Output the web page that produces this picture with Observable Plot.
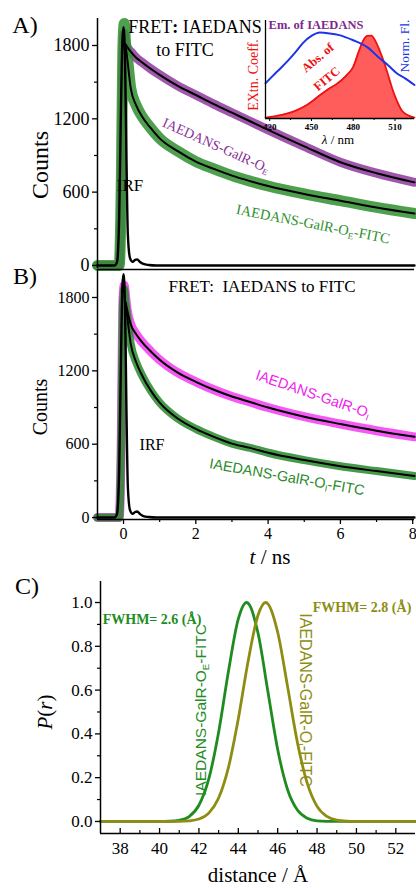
<!DOCTYPE html>
<html><head><meta charset="utf-8">
<script src="https://cdn.jsdelivr.net/npm/d3@7"></script>
<script src="https://cdn.jsdelivr.net/npm/@observablehq/plot@0.6"></script>
<style>
body{margin:0;background:#fff}
#wrap{position:relative;width:416px;height:888px;overflow:hidden;font-family:"Liberation Serif",serif;color:#000}
#wrap svg{position:absolute;left:0}
#wrap svg text{font-family:"Liberation Serif",serif !important}
#pA text{font-size:18px !important}
#pB text{font-size:16px !important}
#pC text{font-size:17px !important}
#pI text{font-size:9px !important;font-weight:bold}
.lab{position:absolute;white-space:nowrap;line-height:1;transform-origin:center}
.lab sub{font-size:0.62em;vertical-align:-0.32em;line-height:0}
.sans{font-family:"Liberation Sans",Arial,sans-serif}
.ang{position:relative;display:inline-block}
.ang .o{position:absolute;left:50%;top:-0.45em;font-size:0.5em;transform:translateX(-50%)}
</style></head><body><div id="wrap"></div>
<script>
// ---------- Panel A / B time-resolved decays ----------
const tDecay = [-0.72, -0.12, -0.06, -0.02, 0.02, 0.06, 0.1, 0.2, 0.35, 0.5, 0.75, 1.0, 1.5, 2.0, 2.5, 3.0, 3.5, 4.0, 5.0, 6.0, 7.0, 8.05];
const aOE      = [0, 0, 700, 1700, 1900, 1830, 1790, 1750, 1700, 1665, 1610, 1560, 1470, 1395, 1320, 1250, 1180, 1110, 975, 845, 755, 680];
const aOEfit   = [null, null, null, null, null, 1810, 1790, 1750, 1700, 1665, 1610, 1560, 1470, 1395, 1320, 1250, 1180, 1110, 975, 845, 755, 680];
const aOEFITC  = [0, 0, 700, 1750, 1980, 1800, 1720, 1450, 1310, 1225, 1125, 1040, 935, 850, 790, 735, 690, 650, 585, 530, 475, 425];
const aOEFITCfit = [null, null, null, null, null, 1790, 1700, 1450, 1310, 1225, 1125, 1040, 935, 850, 790, 735, 690, 650, 585, 530, 475, 425];
const bOI      = [0, 0, 700, 1750, 1900, 1800, 1700, 1580, 1500, 1440, 1360, 1290, 1185, 1110, 1045, 990, 945, 900, 825, 765, 710, 660];
const bOIfit   = [null, null, null, null, null, 1760, 1700, 1580, 1500, 1440, 1360, 1290, 1185, 1110, 1045, 990, 945, 900, 825, 765, 710, 660];
const bOIFITC  = [0, 0, 700, 1700, 1870, 1750, 1650, 1420, 1270, 1170, 1040, 940, 810, 725, 660, 605, 570, 530, 470, 420, 380, 340];
const bOIFITCfit = [null, null, null, null, null, 1750, 1650, 1420, 1270, 1170, 1040, 940, 810, 725, 660, 605, 570, 530, 470, 420, 380, 340];
const tIRF  = [-0.72, -0.25, -0.18, -0.12, -0.07, -0.03, 0, 0.04, 0.08, 0.12, 0.18, 0.25, 0.32, 0.38, 0.45, 0.55, 0.7, 0.9, 8.05];
const irfA  = [0, 0, 30, 400, 1300, 1850, 1950, 1700, 900, 250, 60, 30, 45, 50, 30, 12, 4, 0, 0];
const irfB  = [0, 0, 30, 400, 1300, 1900, 1990, 1750, 900, 250, 60, 30, 45, 50, 30, 12, 4, 0, 0];
const countTicks = [0, 600, 1200, 1800];
const countMinor = [300, 900, 1500];
const timeTicks = [0, 2, 4, 6, 8];
const timeMinor = [1, 3, 5, 7];

// ---------- Inset spectra ----------
const lamFl = [417, 425, 433, 439, 444, 450, 456, 463, 470, 480, 490, 499, 505, 511, 517, 524];
const normFl = [0.41, 0.54, 0.67, 0.78, 0.88, 0.96, 1.0, 0.99, 0.97, 0.91, 0.83, 0.70, 0.62, 0.53, 0.47, 0.39];
const lamAbs = [417, 425, 433, 440, 447, 456, 462, 468, 475, 480, 484, 487, 490, 493, 496, 499, 502, 505, 508, 511, 515, 519, 524];
const absFITC = [0.01, 0.03, 0.06, 0.10, 0.16, 0.27, 0.34, 0.40, 0.50, 0.60, 0.78, 0.90, 0.96, 0.965, 0.90, 0.79, 0.66, 0.51, 0.35, 0.22, 0.09, 0.04, 0.01];
const lamTicks = [420, 450, 480, 510];
const lamMinor = [435, 465, 495];

// ---------- Panel C distance distributions ----------
const distOE = [37, 40, 40.5, 41, 41.5, 42, 42.5, 43, 43.5, 44, 44.42, 45, 45.5, 46, 46.5, 47, 47.5, 48, 48.5, 49, 53];
const pOE    = [0, 0.0002, 0.001, 0.0055, 0.0225, 0.074, 0.194, 0.408, 0.686, 0.925, 1.0, 0.861, 0.595, 0.329, 0.146, 0.052, 0.015, 0.003, 0.0006, 0.0001, 0];
const distOI = [37, 41, 41.5, 42, 42.5, 43, 43.5, 44, 44.5, 45, 45.39, 46, 46.5, 47, 47.5, 48, 48.5, 49, 49.5, 50, 53];
const pOI    = [0, 0.0005, 0.0027, 0.011, 0.038, 0.107, 0.247, 0.469, 0.733, 0.942, 1.0, 0.864, 0.617, 0.362, 0.175, 0.069, 0.023, 0.006, 0.0013, 0.0002, 0];
const pTicks = [0, 0.2, 0.4, 0.6, 0.8, 1.0];
const pMinor = [0.1, 0.3, 0.5, 0.7, 0.9];
const distTicks = [38, 40, 42, 44, 46, 48, 50, 52];
const distMinor = [39, 41, 43, 45, 47, 49, 51];

// ---------- helpers ----------
const wrap = document.getElementById("wrap");
const rows = (xs, ys) => xs.map((x, i) => ({x, y: ys[i]}));
const plain = d => String(d);
const blank = () => "";
function place(svg, id, top, left = 0) { svg.id = id; svg.style.top = top + "px"; svg.style.left = left + "px"; wrap.appendChild(svg); }
function lab(html, x, y, o = {}) {
  const d = document.createElement("div");
  d.className = "lab" + (o.sans ? " sans" : "");
  d.innerHTML = html;
  d.style.left = x + "px"; d.style.top = y + "px";
  d.style.fontSize = (o.size || 16) + "px";
  if (o.color) d.style.color = o.color;
  if (o.bold) d.style.fontWeight = "bold";
  d.style.transform = `translate(-50%,-50%) rotate(${o.rot || 0}deg)`;
  wrap.appendChild(d);
}
const xDom = [-0.72, 8.05];
const baseStyle = {fontFamily: "Liberation Serif", background: "transparent", overflow: "visible", color: "#000"};

function decayPlot({id, top, height, mT, mB, yDom, series, irf, xAxis}) {
  const marks = [];
  for (const s of series) marks.push(Plot.line(rows(tDecay, s.data), {x: "x", y: "y", stroke: s.color, strokeWidth: s.w, strokeOpacity: 0.85, curve: "monotone-x"}));
  marks.push(Plot.line(rows(tIRF, irf), {x: "x", y: "y", stroke: "#000", strokeWidth: 2.4, curve: "monotone-x"}));
  for (const s of series) marks.push(Plot.line(rows(tDecay, s.fit), {x: "x", y: "y", stroke: "#000", strokeWidth: 2, curve: "monotone-x"}));
  marks.push(Plot.ruleX([xDom[0]], {strokeWidth: 1.5}));
  marks.push(Plot.axisY({ticks: countTicks, tickFormat: plain, tickSize: 5, tickPadding: 3, label: null, strokeWidth: 1.3}));
  marks.push(Plot.axisY({ticks: countMinor, tickSize: 3, tickFormat: blank, label: null, strokeWidth: 1.2}));
  if (xAxis) {
    marks.push(Plot.ruleY([yDom[0]], {strokeWidth: 1.5}));
    marks.push(Plot.ruleY([yDom[1]], {strokeWidth: 1.5}));
    marks.push(Plot.axisX({ticks: timeTicks, tickFormat: plain, tickSize: 5, tickPadding: 3, label: null, strokeWidth: 1.3}));
    marks.push(Plot.axisX({ticks: timeMinor, tickSize: 3, tickFormat: blank, label: null, strokeWidth: 1.2}));
  }
  const p = Plot.plot({
    width: 416, height, marginLeft: 97, marginRight: 2, marginTop: mT, marginBottom: mB,
    x: xAxis ? {domain: xDom} : {domain: xDom, axis: null},
    y: {domain: yDom},
    style: baseStyle,
    marks
  });
  place(p, id, top);
}

// Panel A
decayPlot({id: "pA", top: 0, height: 270, mT: 18, mB: 2, yDom: [-25, 2021], xAxis: false,
  irf: irfA,
  series: [{data: aOE, fit: aOEfit, color: "#8e3a9e", w: 9}, {data: aOEFITC, fit: aOEFITCfit, color: "#2f8f2f", w: 11}]});

// Panel B
decayPlot({id: "pB", top: 268, height: 300, mT: 1, mB: 49, yDom: [-16, 2029], xAxis: true,
  irf: irfB,
  series: [{data: bOI, fit: bOIfit, color: "#f23cf2", w: 9}, {data: bOIFITC, fit: bOIFITCfit, color: "#27882a", w: 8}]});

// Inset
const inset = Plot.plot({
  width: 166, height: 135, marginLeft: 15, marginRight: 2, marginTop: 6, marginBottom: 31,
  x: {domain: [417, 524]}, y: {domain: [0, 1.14], axis: null},
  style: baseStyle,
  marks: [
    Plot.areaY(rows(lamAbs, absFITC), {x: "x", y: "y", fill: "#ff5c5c", curve: "monotone-x"}),
    Plot.line(rows(lamAbs, absFITC), {x: "x", y: "y", stroke: "#ee1111", strokeWidth: 1.8, curve: "monotone-x"}),
    Plot.line(rows(lamFl, normFl), {x: "x", y: "y", stroke: "#1d35e6", strokeWidth: 2, curve: "monotone-x"}),
    Plot.ruleX([417], {strokeWidth: 1.3}),
    Plot.ruleY([0], {strokeWidth: 1.3}),
    Plot.axisX({ticks: lamTicks, tickFormat: plain, tickSize: 3, tickPadding: 2, label: null}),
    Plot.axisX({ticks: lamMinor, tickSize: 2, tickFormat: blank, label: null})
  ]
});
place(inset, "pI", 14, 250);

// Panel C
const plotC = Plot.plot({
  width: 416, height: 318, marginLeft: 100, marginRight: 1, marginTop: 11, marginBottom: 55,
  x: {domain: [37, 53]}, y: {domain: [-0.055, 1.096]},
  style: baseStyle,
  marks: [
    Plot.line(rows(distOE, pOE), {x: "x", y: "y", stroke: "#1e8c1e", strokeWidth: 2.8, curve: "monotone-x"}),
    Plot.line(rows(distOI, pOI), {x: "x", y: "y", stroke: "#8d8d14", strokeWidth: 2.8, curve: "monotone-x"}),
    Plot.ruleX([37], {strokeWidth: 1.5}),
    Plot.ruleY([-0.055], {strokeWidth: 1.5}),
    Plot.axisY({ticks: pTicks, tickFormat: d3.format(".1f"), tickSize: 5, tickPadding: 3, label: null, strokeWidth: 1.3}),
    Plot.axisY({ticks: pMinor, tickSize: 3, tickFormat: blank, label: null, strokeWidth: 1.2}),
    Plot.axisX({ticks: distTicks, tickFormat: plain, tickSize: 0, tickPadding: 8, label: null}),
    Plot.axisX({ticks: distTicks, tickSize: -5, tickFormat: blank, label: null, strokeWidth: 1.3}),
    Plot.axisX({ticks: distMinor, tickSize: -3, tickFormat: blank, label: null, strokeWidth: 1.2})
  ]
});
place(plotC, "pC", 570);

// ---------- text ----------
lab("A)", 25, 25, {size: 24});
lab("B)", 25, 276, {size: 24});
lab("C)", 27, 586, {size: 24});
lab("Counts", 40, 165, {size: 24, rot: -90});
lab("Counts", 40, 407, {size: 20, rot: -90});
lab("FRET<b>:</b> IAEDANS", 195, 27, {size: 18});
lab("to FITC", 185, 50, {size: 18});
lab("IRF", 130, 185, {size: 17});
lab("IAEDANS-GalR-O<sub>E</sub>", 216, 146, {size: 14, rot: 24, color: "#8a2f96"});
lab("IAEDANS-GalR-O<sub>E</sub>-FITC", 313, 224, {size: 14.5, rot: 11, color: "#2f8f2f"});
lab("FRET:&nbsp; IAEDANS to FITC", 262, 286, {size: 17});
lab("IRF", 152, 445, {size: 16});
lab("IAEDANS-GalR-O<sub>I</sub>", 313, 394, {size: 14.5, rot: 19, color: "#ee22ee", sans: true});
lab("IAEDANS-GalR-O<sub>I</sub>-FITC", 287, 477, {size: 14.5, rot: 10, color: "#2a8a2a", sans: true});
lab("<i>t</i> / ns", 270, 557, {size: 21});
// inset text
lab("Em. of IAEDANS", 316, 25, {size: 12.5, bold: true, color: "#7e2a8c"});
lab("EXtn. Coeff.", 254, 75, {size: 14, rot: -90, color: "#ee1111"});
lab("Norm. Fl.", 405, 46, {size: 13.5, rot: -90, color: "#1d35e6"});
lab("Abs. of", 318, 58, {size: 12.5, bold: true, rot: -40, color: "#ee1111"});
lab("FITC", 327, 79, {size: 12.5, bold: true, rot: -40, color: "#ee1111"});
lab("<i>λ</i> / nm", 338, 139, {size: 13});
// panel C text
lab('FWHM= 2.6 (<span class="ang">Å<span class="o">0</span></span>)', 152, 620, {size: 14, bold: true, color: "#1e8c1e"});
lab('FWHM= 2.8 (<span class="ang">Å<span class="o">0</span></span>)', 362, 608, {size: 14, bold: true, color: "#8d8d14"});
lab("IAEDANS-GalR-O<sub>E</sub>-FITC", 201, 710, {size: 15.5, rot: -90, color: "#1e8c1e", sans: true});
lab("IAEDANS-GalR-O<sub>I</sub>-FITC", 305, 700, {size: 16, rot: 90, color: "#8d8d14", sans: true});
lab("<i>P</i>(<i>r</i>)", 45, 712, {size: 21, rot: -90});
lab("distance / Å", 258, 875, {size: 21});
</script></body></html>
